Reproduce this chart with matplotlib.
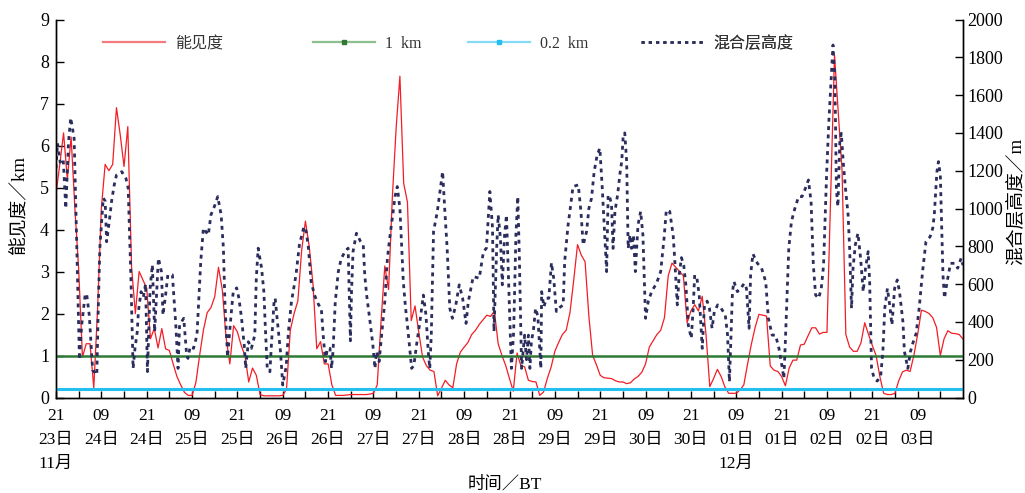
import matplotlib
matplotlib.use("Agg")
import matplotlib.pyplot as plt
from matplotlib.lines import Line2D

plt.rcParams['font.family'] = ['Liberation Serif', 'Noto Sans CJK SC']
plt.rcParams['axes.unicode_minus'] = False

# ---- time axis: hours counted from 23 Nov 21:00 (BT) ----
tick_hours = list(range(0, 240, 12))
tick_hh = ['21', '09'] * 10
tick_day = ['23日', '24日', '24日', '25日', '25日', '26日', '26日', '27日', '27日', '28日',
            '28日', '29日', '29日', '30日', '30日', '01日', '01日', '02日', '02日', '03日']
tick_month = {0: '11月', 15: '12月'}

# ---- visibility (km) ----
vis_hours = [0, 1, 2, 3, 4, 5, 6, 7, 8, 9, 10, 11, 12, 13, 14, 15, 16, 17, 18, 19,
             20, 21, 22, 23, 24, 25, 26, 27, 28, 29, 30, 31, 32, 33, 34, 35, 36, 37, 38, 39,
             40, 41, 42, 43, 44, 45, 46, 47, 48, 49, 50, 51, 52, 53, 54, 55, 56, 57, 58, 59,
             60, 61, 62, 63, 64, 65, 66, 67, 68, 69, 70, 71, 72, 73, 74, 75, 76, 77, 78, 79,
             80, 81, 82, 83, 84, 85, 86, 87, 88, 89, 90, 91, 92, 93, 94, 95, 96, 97, 98, 99,
             100, 101, 102, 103, 104, 105, 106, 107, 108, 109, 110, 111, 112, 113, 114, 115, 116, 117, 118, 119,
             120, 121, 122, 123, 124, 125, 126, 127, 128, 129, 130, 131, 132, 133, 134, 135, 136, 137, 138, 139,
             140, 141, 142, 143, 144, 145, 146, 147, 148, 149, 150, 151, 152, 153, 154, 155, 156, 157, 158, 159,
             160, 161, 162, 163, 164, 165, 166, 167, 168, 169, 170, 171, 172, 173, 174, 175, 176, 177, 178, 179,
             180, 181, 182, 183, 184, 185, 186, 187, 188, 189, 190, 191, 192, 193, 194, 195, 196, 197, 198, 199,
             200, 201, 202, 203, 204, 206, 208, 209, 210, 211, 212, 213, 214, 215, 216, 217, 218, 219,
             220, 221, 222, 223, 224, 225, 226, 227, 228, 229, 230, 231, 232, 233, 234, 235, 236, 237, 238, 239, 240]
vis_km = [4.85, 5.55, 6.3, 5.2, 6.2, 4.5, 3.05, 0.96, 1.28, 1.28, 0.23, 2.1, 4.5, 5.55, 5.4, 5.55, 6.9, 6.25, 5.5, 6.45,
          3.1, 2.0, 3.0, 2.8, 2.6, 1.4, 1.64, 1.18, 1.64, 1.16, 1.12, 0.8, 0.5, 0.3, 0.12, 0.05, 0.05, 0.35, 1.0, 1.6,
          2.02, 2.14, 2.4, 3.1, 2.57, 1.43, 0.8, 1.71, 1.56, 1.24, 1.0, 0.37, 0.7, 0.53, 0.07, 0.04, 0.04, 0.04, 0.04, 0.04,
          0.05, 0.2, 1.6, 2.0, 2.3, 3.5, 4.2, 3.6, 2.7, 1.16, 1.33, 0.8, 0.8, 0.3, 0.05, 0.05, 0.05, 0.06, 0.07, 0.07,
          0.07, 0.07, 0.07, 0.08, 0.1, 0.3, 1.8, 3.13, 2.57, 4.77, 6.41, 7.65, 5.1, 4.65, 1.83, 2.18, 1.55, 0.96, 0.76, 0.65,
          0.62, 0.04, 0.22, 0.41, 0.3, 0.23, 0.8, 1.08, 1.2, 1.31, 1.5, 1.6, 1.74, 1.85, 1.96, 1.93, 2.06, 1.28, 1.0, 0.76,
          0.45, 0.15, 1.06, 0.76, 0.73, 0.41, 0.38, 0.37, 0.05, 0.13, 0.45, 0.72, 1.1, 1.31, 1.5, 1.6, 2.02, 2.8, 3.64, 3.39,
          3.23, 1.94, 1.0, 0.78, 0.53, 0.47, 0.46, 0.45, 0.4, 0.37, 0.37, 0.33, 0.35, 0.44, 0.5, 0.6, 0.8, 1.2, 1.35, 1.5,
          1.6, 1.9, 2.9, 3.2, 3.1, 3.0, 2.9, 1.78, 2.06, 2.21, 2.06, 2.41, 1.5, 0.26, 0.45, 0.67, 0.5, 0.25, 0.1, 0.1,
          0.1, 0.18, 0.3, 0.8, 1.27, 1.67, 1.98, 1.96, 1.94, 0.75, 0.65, 0.62, 0.5, 0.28, 0.7, 0.89, 0.89, 1.25, 1.27, 1.47,
          1.66, 1.66, 1.51, 1.55, 1.55, 8.15, 5.4, 1.5, 1.2, 1.1, 1.1, 1.3, 1.78, 1.5, 1.24, 1.0, 0.5, 0.1,
          0.07, 0.07, 0.1, 0.4, 0.61, 0.65, 0.62, 1.0, 1.5, 2.08, 2.05, 2.0, 1.9, 1.67, 1.0, 1.4, 1.59, 1.53, 1.52, 1.5, 1.39]

# ---- mixing layer height (m) ----
mlh_hours = [0.0, 0.4, 1.1, 1.9, 2.6, 3.3, 3.9, 4.8, 5.5, 6.2, 6.8, 7.7, 8.1, 8.8, 9.7, 10.8, 11.2, 11.6, 12.5, 13.0,
             13.4, 14.1, 14.7, 15.4, 16.0, 17.4, 18.5, 19.1, 19.8, 20.4, 20.9, 21.5, 21.8, 22.5, 23.1, 23.7, 24.2, 24.9, 25.5, 26.1,
             27.1, 27.9, 28.3, 29.0, 29.6, 30.8, 31.7, 32.3, 32.7, 33.8, 34.5, 34.9, 35.5, 36.4, 37.3, 37.8, 38.3, 39.0, 40.3, 41.0,
             41.9, 42.8, 43.7, 44.3, 44.7, 45.4, 46.3, 46.9, 47.8, 48.4, 49.1, 49.8, 50.2, 50.9, 51.7, 52.6, 53.0, 53.5, 54.4, 55.0,
             55.4, 55.9, 56.6, 57.0, 57.7, 58.0, 58.5, 59.4, 60.0, 60.9, 61.5, 62.3, 63.5, 64.4, 65.6, 66.2, 66.8, 67.5, 68.4, 69.5,
             70.2, 70.7, 71.3, 71.8, 72.5, 72.9, 73.3, 73.9, 74.7, 75.5, 76.5, 77.3, 77.9, 78.2, 78.6, 79.5, 80.6, 81.3, 81.7, 82.2,
             83.1, 83.8, 84.4, 84.8, 85.5, 86.4, 87.0, 87.7, 88.4, 89.1, 89.7, 90.3, 91.0, 91.5, 91.9, 92.5, 92.8, 93.6, 94.1, 94.7,
             95.4, 96.3, 97.2, 97.9, 98.5, 98.9, 99.3, 99.9, 100.9, 101.6, 102.3, 102.9, 103.5, 104.2, 104.9, 105.8, 106.7, 107.6, 108.5, 109.1,
             110.4, 112.0, 113.1, 113.9, 114.8, 115.5, 115.9, 116.6, 117.0, 117.6, 118.1, 118.7, 119.2, 119.9, 120.5, 121.1, 121.7, 122.2, 122.6, 123.2,
             123.6, 124.0, 124.5, 125.0, 125.4, 125.8, 126.3, 126.9, 127.5, 128.3, 128.5, 129.1, 129.8, 130.4, 131.1, 131.7, 132.4, 133.0, 134.2, 134.6,
             135.5, 136.2, 136.8, 138.2, 138.9, 139.5, 140.4, 141.0, 141.7, 142.4, 143.2, 143.9, 144.5, 145.2, 145.7, 146.1, 146.6, 147.0, 147.4, 147.9,
             148.6, 149.3, 149.7, 150.1, 150.5, 151.0, 151.4, 151.9, 152.3, 152.8, 153.3, 154.0, 154.7, 155.3, 156.0, 156.7, 157.6, 158.9, 160.0, 160.9,
             161.5, 162.4, 163.3, 163.7, 164.4, 164.9, 165.5, 166.1, 166.7, 167.3, 168.1, 168.6, 169.0, 169.6, 170.2, 171.0, 171.6, 172.3, 172.9, 173.6,
             174.2, 175.1, 176.0, 177.1, 177.7, 178.2, 178.6, 179.0, 179.4, 180.3, 181.2, 182.1, 182.7, 183.4, 183.8, 184.4, 185.6, 186.7, 187.8, 188.5,
             189.5, 190.4, 191.3, 192.2, 192.6, 193.0, 193.9, 194.6, 195.5, 196.5, 197.4, 198.3, 199.1, 199.8, 200.4, 201.0, 201.8, 202.5, 203.1, 203.9,
             204.5, 205.2, 205.6, 206.1, 206.5, 206.9, 207.4, 207.8, 208.3, 208.9, 209.6, 210.0, 210.5, 210.9, 211.5, 212.2, 212.9, 213.6, 214.2, 214.9,
             215.3, 215.8, 216.5, 217.3, 218.2, 218.8, 219.3, 220.0, 220.6, 221.2, 221.9, 222.6, 223.2, 224.1, 224.5, 225.4, 226.1, 226.7, 227.6, 228.4,
             229.3, 230.2, 231.3, 232.0, 232.4, 233.1, 233.5, 234.0, 234.4, 234.7, 235.1, 235.8, 236.7, 237.9, 238.6, 239.5, 240.0]
mlh_m = [1213, 1345, 1245, 1262, 1000, 1350, 1480, 1370, 800, 200, 383, 542, 550, 436, 145, 120, 489, 791, 1055, 1040,
         824, 932, 1037, 1124, 1177, 1195, 1160, 1107, 650, 154, 260, 348, 454, 560, 530, 600, 137, 577, 702, 348,
         737, 666, 436, 542, 649, 649, 384, 154, 384, 419, 243, 207, 269, 260, 330, 525, 719, 896, 860, 966,
         1010, 1063, 966, 789, 500, 215, 430, 560, 580, 525, 419, 278, 154, 295, 260, 330, 631, 790, 684, 560,
         366, 154, 136, 278, 507, 525, 419, 243, 66, 163, 348, 507, 648, 807, 904, 878, 790, 613, 542, 490,
         472, 330, 190, 260, 260, 154, 243, 507, 666, 737, 772, 790, 300, 560, 772, 869, 825, 807, 648, 542,
         401, 286, 154, 243, 190, 380, 507, 737, 860, 966, 1063, 1116, 1000, 789, 613, 472, 419, 260, 154, 170,
         278, 401, 542, 436, 243, 154, 330, 878, 984, 1090, 1195, 984, 790, 472, 419, 490, 596, 525, 392, 507,
         640, 631, 772, 790, 1090, 900, 350, 789, 966, 843, 596, 860, 966, 525, 154, 348, 860, 1063, 750, 154,
         243, 330, 200, 330, 154, 300, 350, 472, 430, 154, 560, 480, 525, 525, 713, 630, 455, 472, 490, 720,
         913, 1019, 1116, 1125, 984, 807, 878, 1000, 1054, 1195, 1283, 1319, 1125, 860, 666, 1072, 1054, 1019, 789, 984,
         1072, 1195, 1250, 1390, 1400, 1248, 789, 860, 789, 860, 666, 913, 984, 860, 419, 507, 560, 604, 666, 843,
         992, 984, 860, 737, 490, 648, 740, 700, 590, 384, 313, 472, 648, 630, 542, 260, 490, 510, 472, 366,
         455, 490, 472, 436, 330, 84, 330, 560, 613, 560, 577, 604, 577, 366, 648, 760, 710, 684, 613, 419,
         330, 330, 260, 154, 101, 300, 789, 931, 1000, 1063, 1063, 1107, 1151, 1037, 700, 542, 525, 577, 700, 1177,
         1460, 1724, 1865, 1690, 1100, 1010, 1354, 1398, 1248, 1107, 966, 790, 472, 684, 807, 869, 737, 560, 684, 772,
         613, 154, 101, 87, 110, 243, 472, 577, 490, 384, 577, 622, 560, 401, 243, 154, 243, 286, 339, 472,
         666, 825, 851, 896, 966, 1195, 1248, 1177, 878, 648, 525, 613, 710, 710, 684, 737, 700]

# ---- visibility thresholds (km) ----
threshold_km = [1.0, 0.2]
threshold_labels = ['1  km', '0.2  km']

C_VIS = '#f21d25'
C_MLH = '#2b2d5c'
C_THR = ['#2e7a34', '#22bff0']

fig = plt.figure(figsize=(10.25, 4.93), dpi=100)
ax = fig.add_axes([56 / 1025, 95.5 / 493, 907 / 1025, 378 / 493])
ax2 = ax.twinx()

ax.plot(vis_hours, vis_km, color=C_VIS, lw=0.9, zorder=3)
for val, col in zip(threshold_km, C_THR):
    ax.axhline(val, color=col, lw=1.8 if val == 1.0 else 2.2, zorder=4)
ax2.plot(mlh_hours, mlh_m, color=C_MLH, lw=2.0, ls=(0, (1.4, 1.6)), zorder=2)

ax.set_xlim(0, 240)
ax.set_ylim(0, 9)
ax2.set_ylim(0, 2000)

labels = []
for i, (hh, dd) in enumerate(zip(tick_hh, tick_day)):
    s = hh + '\n' + dd
    if i in tick_month:
        s += '\n' + tick_month[i]
    labels.append(s)
ax.set_xticks(tick_hours)
ax.set_xticklabels(labels, linespacing=1.68, fontsize=12.5)
ax.set_xticks([h + 6 for h in tick_hours], minor=True)
ax.set_yticks(range(0, 10))
ax2.set_yticks(range(0, 2001, 200))

ax.tick_params(axis='x', which='both', direction='in', length=5, width=1, top=False, pad=7.5)
ax.tick_params(axis='y', direction='in', length=6, width=1, labelsize=13, pad=5)
ax.tick_params(axis='x', labelsize=12.5)
ax2.tick_params(axis='y', direction='in', length=6, width=1, labelsize=13, pad=3)

for a in (ax, ax2):
    a.spines['top'].set_visible(False)
    for s in a.spines.values():
        s.set_linewidth(1.0)

ax.set_ylabel('能见度／km', fontsize=13.5)
ax.yaxis.set_label_coords(-0.031, 0.51)
ax2.set_ylabel('混合层高度／m', fontsize=13.5, rotation=90)
ax2.yaxis.set_label_coords(1.049, 0.52)
fig.text(505 / 1025, 1 - 484 / 493, '时间／BT', ha='center', va='center', fontsize=12.5)

# legend: four entries in one row
handles = [
    Line2D([], [], color='#f47c80', lw=1.6),
    Line2D([], [], color='#8cbf8e', lw=1.6, marker='s', markersize=3,
           markerfacecolor=C_THR[0], markeredgecolor=C_THR[0]),
    Line2D([], [], color='#86daf6', lw=1.6, marker='s', markersize=3,
           markerfacecolor=C_THR[1], markeredgecolor=C_THR[1]),
    Line2D([], [], color=C_MLH, lw=1.8, ls=(0, (1.3, 1.6))),
]
leg_labels = ['能见度'] + threshold_labels + ['混合层高度']
leg_x = [103, 313, 468, 641]
for h, lab, x in zip(handles, leg_labels, leg_x):
    lg = ax2.legend([h], [lab], loc='center left', numpoints=1,
                    bbox_to_anchor=((x - 56) / 907, (397.5 - 44) / 378),
                    frameon=False, handlelength=3.9, handletextpad=0.6,
                    borderpad=0, borderaxespad=0, fontsize=11.5, labelcolor='#333333')
    ax2.add_artist(lg)

fig.savefig('out.png', dpi=100)
